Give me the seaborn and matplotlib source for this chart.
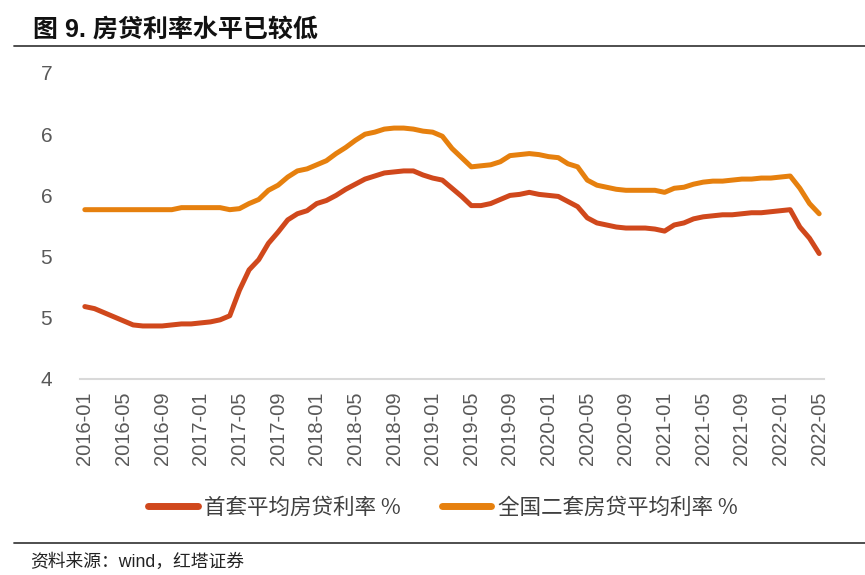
import numpy as np
import pandas as pd
import seaborn as sns
import matplotlib.pyplot as plt
from matplotlib.lines import Line2D

sns.set_theme(style="white")
plt.rcParams['font.family'] = ['Liberation Sans', 'Noto Sans CJK SC', 'DejaVu Sans']

# monthly, 2016-01 .. 2022-05
months = pd.date_range("2016-01", "2022-05", freq="MS").strftime("%Y-%m").tolist()

first_home = [4.71, 4.69, 4.65, 4.61, 4.57, 4.53, 4.52, 4.52, 4.52, 4.53,
              4.54, 4.54, 4.55, 4.56, 4.58, 4.62, 4.87, 5.07, 5.17, 5.33,
              5.44, 5.56, 5.62, 5.65, 5.72, 5.75, 5.80, 5.86, 5.91, 5.96,
              5.99, 6.02, 6.03, 6.04, 6.04, 6.00, 5.97, 5.95, 5.87, 5.79,
              5.70, 5.70, 5.72, 5.76, 5.80, 5.81, 5.83, 5.81, 5.80, 5.79,
              5.74, 5.69, 5.58, 5.53, 5.51, 5.49, 5.48, 5.48, 5.48, 5.47,
              5.45, 5.51, 5.53, 5.57, 5.59, 5.60, 5.61, 5.61, 5.62, 5.63,
              5.63, 5.64, 5.65, 5.66, 5.49, 5.38, 5.23]

second_home = [5.66, 5.66, 5.66, 5.66, 5.66, 5.66, 5.66, 5.66, 5.66, 5.66,
               5.68, 5.68, 5.68, 5.68, 5.68, 5.66, 5.67, 5.72, 5.76, 5.85,
               5.90, 5.98, 6.04, 6.06, 6.10, 6.14, 6.21, 6.27, 6.34, 6.40,
               6.42, 6.45, 6.46, 6.46, 6.45, 6.43, 6.42, 6.38, 6.26, 6.17,
               6.08, 6.09, 6.10, 6.13, 6.19, 6.20, 6.21, 6.20, 6.18, 6.17,
               6.11, 6.08, 5.95, 5.90, 5.88, 5.86, 5.85, 5.85, 5.85, 5.85,
               5.83, 5.87, 5.88, 5.91, 5.93, 5.94, 5.94, 5.95, 5.96, 5.96,
               5.97, 5.97, 5.98, 5.99, 5.87, 5.72, 5.62]

series_names = ["首套平均房贷利率 %", "全国二套房贷平均利率 %"]
colors = ["#D0481C", "#E6800E"]

yticks = [4.0, 4.6, 5.2, 5.8, 6.4, 7.0]

df = pd.DataFrame({
    "idx": list(range(len(months))) * 2,
    "rate": first_home + second_home,
    "series": [series_names[0]] * len(months) + [series_names[1]] * len(months),
})

fig = plt.figure(figsize=(8.65, 5.75), dpi=100)
ax = fig.add_axes([80 / 865, 1 - 379 / 575, 744 / 865, 306 / 575])

sns.lineplot(data=df, x="idx", y="rate", hue="series", palette=colors,
             linewidth=3.6, ax=ax, legend=False)
for ln in ax.lines:
    ln.set_solid_capstyle("round")
    ln.set_solid_joinstyle("round")

ax.set_xlim(-0.5, len(months) - 0.5)
ax.set_ylim(4, 7)
ax.set_xlabel("")
ax.set_ylabel("")

# category axis: tick marks between categories, labels every 4 months
ax.set_xticks(np.arange(-0.5, len(months) - 1, 4))
ax.set_xticklabels([])
ax.set_xticks(np.arange(0, len(months), 4), minor=True)
ax.set_xticklabels(months[::4], minor=True, rotation=90, fontsize=14.5, color="#595959")
ax.tick_params(axis="x", which="major", length=6, width=1.2, color="#D9D9D9", direction="out")
ax.tick_params(axis="x", which="minor", length=0, pad=9)

ax.set_yticks(yticks)
ax.set_yticklabels([f"{v:.0f}" for v in yticks], fontsize=15, color="#595959")
ax.tick_params(axis="y", length=0, pad=20)

for s in ["top", "right", "left"]:
    ax.spines[s].set_visible(False)
ax.spines["bottom"].set_color("#D9D9D9")
ax.spines["bottom"].set_linewidth(1.5)
ax.grid(False)

handles = [Line2D([], [], color=c, lw=5, solid_capstyle="round") for c in colors]
fig.legend(handles, series_names, loc="center", bbox_to_anchor=(0.512, 1 - 508 / 575),
           ncol=2, frameon=False, handlelength=2.3, handletextpad=0.3, columnspacing=1.9,
           prop={"family": ["Noto Sans CJK SC", "DejaVu Sans"], "size": 15.5},
           labelcolor="#404040")

fig.text(33 / 865, 1 - 30 / 575, "图 9. 房贷利率水平已较低", fontsize=18, fontweight="bold",
         va="center", ha="left", color="#111111",
         family=["Liberation Sans", "Noto Sans CJK SC"])
fig.add_artist(Line2D([14 / 865, 1], [1 - 46 / 575, 1 - 46 / 575], color="#404040", lw=1.3))
fig.add_artist(Line2D([14 / 865, 1], [1 - 543 / 575, 1 - 543 / 575], color="#404040", lw=1.3))
fig.text(30 / 865, 1 - 562 / 575, "资料来源：wind，红塔证券", fontsize=12.8, va="center",
         ha="left", color="#222222", family=["Liberation Sans", "Noto Sans CJK SC"])

fig.savefig("out.png", dpi=100)
